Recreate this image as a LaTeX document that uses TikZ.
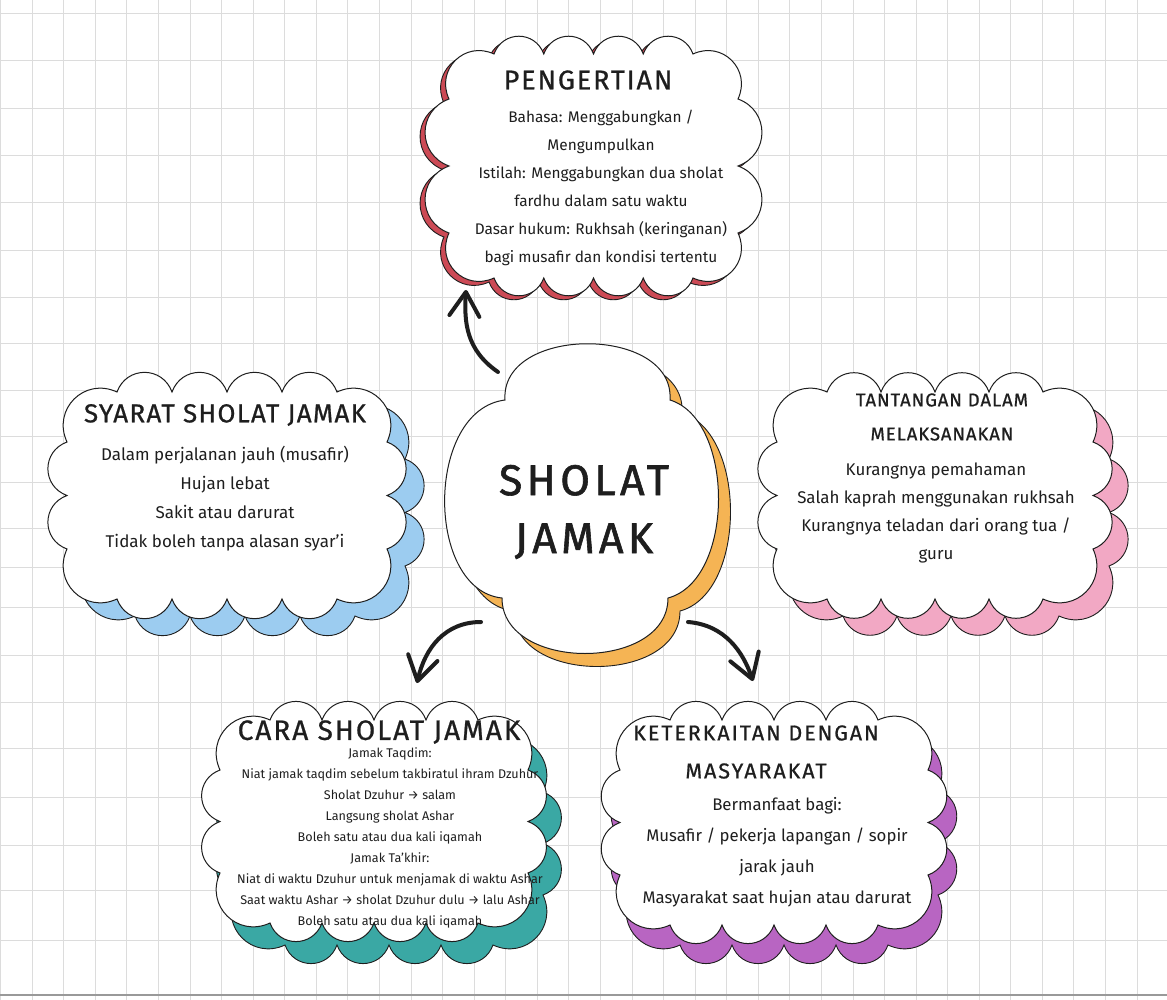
\documentclass[tikz,border=0pt]{standalone}
\usepackage{fontspec}
\setmainfont{Fira Sans}
\newfontfamily\ttlfont[LetterSpace=5,FakeBold=0.8]{Fira Sans}
\newfontfamily\corefont[LetterSpace=10,FakeBold=1.4]{Fira Sans}
\usetikzlibrary{arrows.meta}
\definecolor{gridgray}{HTML}{DCDCDC}
\definecolor{redsh}{HTML}{CC4A55}
\definecolor{bluesh}{HTML}{9CCCF0}
\definecolor{pinksh}{HTML}{F2A8C4}
\definecolor{tealsh}{HTML}{3AA8A4}
\definecolor{purplesh}{HTML}{B865C2}
\definecolor{orangesh}{HTML}{F5B454}
\definecolor{ink}{HTML}{1E1E1E}
% #1 x0, #2 y0, #3 x1, #4 y1, #5 corner cut, #6 puffs top/bottom, #7 puffs sides, #8 puffs per corner, #9 style
\newcommand{\drawcloud}[9]{%
 \path[#9] ({#1+#5},{#2})
 \foreach \i in {1,...,#6}{ to[puffto] ({#1+#5+(#3-#1-2*#5)*\i/#6},{#2}) }
 \foreach \i in {1,...,#8}{ to[puffto] ({#3-#5+#5*\i/#8},{#2+#5*\i/#8}) }
 \foreach \i in {1,...,#7}{ to[puffto] ({#3},{#2+#5+(#4-#2-2*#5)*\i/#7}) }
 \foreach \i in {1,...,#8}{ to[puffto] ({#3-#5*\i/#8},{#4-#5+#5*\i/#8}) }
 \foreach \i in {1,...,#6}{ to[puffto] ({#3-#5-(#3-#1-2*#5)*\i/#6},{#4}) }
 \foreach \i in {1,...,#8}{ to[puffto] ({#1+#5-#5*\i/#8},{#4-#5*\i/#8}) }
 \foreach \i in {1,...,#7}{ to[puffto] ({#1},{#4-#5-(#4-#2-2*#5)*\i/#7}) }
 \foreach \i in {1,...,#8}{ to[puffto] ({#1+#5*\i/#8},{#2+#5-#5*\i/#8}) }
 -- cycle;}
\begin{document}
\begin{tikzpicture}[x=1pt,y=-1pt,
  gridline/.style={draw=gridgray, line width=0.8pt},
  puffto/.style={bend left=70, looseness=1.3},
  cloudmain/.style={fill=white, draw=ink, line width=1pt},
  cloudshadow/.style={draw=ink, line width=0.9pt},
  ttl/.style={font=\ttlfont\fontsize{26}{30}\selectfont, text=ink, align=center, inner sep=0pt},
  ttlsmall/.style={font=\ttlfont\fontsize{18.5}{34}\selectfont, text=ink, align=center, inner sep=0pt},
  body/.style={font=\fontsize{15.4}{28}\selectfont, text=ink, align=center, inner sep=0pt},
  conn/.style={line width=4pt, line cap=round, draw=ink,
    -{Straight Barb[length=24pt,width=30pt,round]}}]
\useasboundingbox (0,0) rectangle (1167,1000);
\fill[white] (0,0) rectangle (1167,1000);
% grid
\foreach \k in {0,...,36} \draw[gridline] ({0.5+31.57*\k},0) -- ({0.5+31.57*\k},1000);
\foreach \y in {13,60,108,155,202,250,297,343,390,436,482,528,567,607,655,702,748,797,845,890,940}
  \draw[gridline] (0,\y) -- (1167,\y);
\draw[draw=black!40, line width=1.2pt] (0,995) -- (1167,995);

% top cloud: PENGERTIAN
\drawcloud{449}{54}{738}{278}{45}{4}{2}{1}{cloudshadow, fill=redsh, shift={(-5,4)}}
\drawcloud{449}{54}{738}{278}{45}{4}{2}{1}{cloudmain}
% left cloud: SYARAT
\drawcloud{67}{392}{387}{599}{50}{4}{2}{1}{cloudshadow, fill=bluesh, shift={(18,17)}}
\drawcloud{67}{392}{387}{599}{50}{4}{2}{1}{cloudmain}
% right cloud: TANTANGAN
\drawcloud{777}{392}{1093}{599}{50}{4}{2}{1}{cloudshadow, fill=pinksh, shift={(16,17)}}
\drawcloud{777}{392}{1093}{599}{50}{4}{2}{1}{cloudmain}
% bottom-left cloud: CARA
\drawcloud{220}{720}{528}{923}{50}{4}{2}{1}{cloudshadow, fill=tealsh, shift={(15,22)}}
\drawcloud{220}{720}{528}{923}{50}{4}{2}{1}{cloudmain}
% bottom-right cloud: KETERKAITAN
\drawcloud{620}{720}{928}{925}{50}{4}{2}{1}{cloudshadow, fill=purplesh, shift={(10,20)}}
\drawcloud{620}{720}{928}{925}{50}{4}{2}{1}{cloudmain}
% center cloud
\path[cloudshadow, fill=orangesh, shift={(12,13)}] (505,400) .. controls (500,325) and (675,325) .. (670,400)
  .. controls (735,420) and (735,580) .. (668,598)
  .. controls (668,672) and (502,672) .. (502,598)
  .. controls (425,590) and (425,410) .. (505,400) -- cycle;
\path[cloudmain] (505,400) .. controls (500,325) and (675,325) .. (670,400)
  .. controls (735,420) and (735,580) .. (668,598)
  .. controls (668,672) and (502,672) .. (502,598)
  .. controls (425,590) and (425,410) .. (505,400) -- cycle;

% texts
\node[font=\corefont\fontsize{43}{58}\selectfont, text=ink, align=center, inner sep=0pt] (core) at (584,512) {SHOLAT\\JAMAK};

\node[ttl, font=\ttlfont\fontsize{27}{30}\selectfont\addfontfeature{LetterSpace=7}] (pengertian) at (588,80) {PENGERTIAN};
\node[body] (pengertianbody) at (601,188) {Bahasa: Menggabungkan /\\Mengumpulkan\\Istilah: Menggabungkan dua sholat\\fardhu dalam satu waktu\\Dasar hukum: Rukhsah (keringanan)\\bagi musafir dan kondisi tertentu};

\node[ttl] (syarat) at (225,415) {SYARAT SHOLAT JAMAK};
\node[body, font=\fontsize{17}{29}\selectfont] (syaratbody) at (225,499) {Dalam perjalanan jauh (musafir)\\Hujan lebat\\Sakit atau darurat\\Tidak boleh tanpa alasan syar’i};

\node[ttlsmall] (tantangan) at (942,417) {TANTANGAN DALAM\\MELAKSANAKAN};
\node[body, font=\fontsize{16.9}{28.3}\selectfont] (tantanganbody) at (936,513) {Kurangnya pemahaman\\Salah kaprah menggunakan rukhsah\\Kurangnya teladan dari orang tua /\\guru};

\node[ttl, font=\ttlfont\fontsize{28}{30}\selectfont\addfontfeature{LetterSpace=7}] (cara) at (379,732) {CARA SHOLAT JAMAK};
\node[body, font=\fontsize{12.6}{20.9}\selectfont] (carabody) at (390,838) {Jamak Taqdim:\\Niat jamak taqdim sebelum takbiratul ihram Dzuhur\\Sholat Dzuhur → salam\\Langsung sholat Ashar\\Boleh satu atau dua kali iqamah\\Jamak Ta’khir:\\Niat di waktu Dzuhur untuk menjamak di waktu Ashar\\Saat waktu Ashar → sholat Dzuhur dulu → lalu Ashar\\Boleh satu atau dua kali iqamah};

\node[ttlsmall, font=\ttlfont\fontsize{21.5}{38}\selectfont\addfontfeature{LetterSpace=9}] (keterkaitan) at (756,752) {KETERKAITAN DENGAN\\MASYARAKAT};
\node[body, font=\fontsize{16.8}{31}\selectfont] (keterkaitanbody) at (777,852) {Bermanfaat bagi:\\Musafir / pekerja lapangan / sopir\\jarak jauh\\Masyarakat saat hujan atau darurat};

% connectors
\coordinate (core-nw) at (498,372);
\coordinate (pengertian-in) at (466,290);
\coordinate (core-sw) at (481,622);
\coordinate (cara-in) at (417,683);
\coordinate (core-se) at (688,622);
\coordinate (keterkaitan-in) at (753,681);
\draw[conn] (core-nw) .. controls (466,350) and (464,322) .. (pengertian-in);
\draw[conn] (core-sw) .. controls (445,622) and (425,648) .. (cara-in);
\draw[conn] (core-se) .. controls (725,625) and (743,652) .. (keterkaitan-in);
\end{tikzpicture}
\end{document}
